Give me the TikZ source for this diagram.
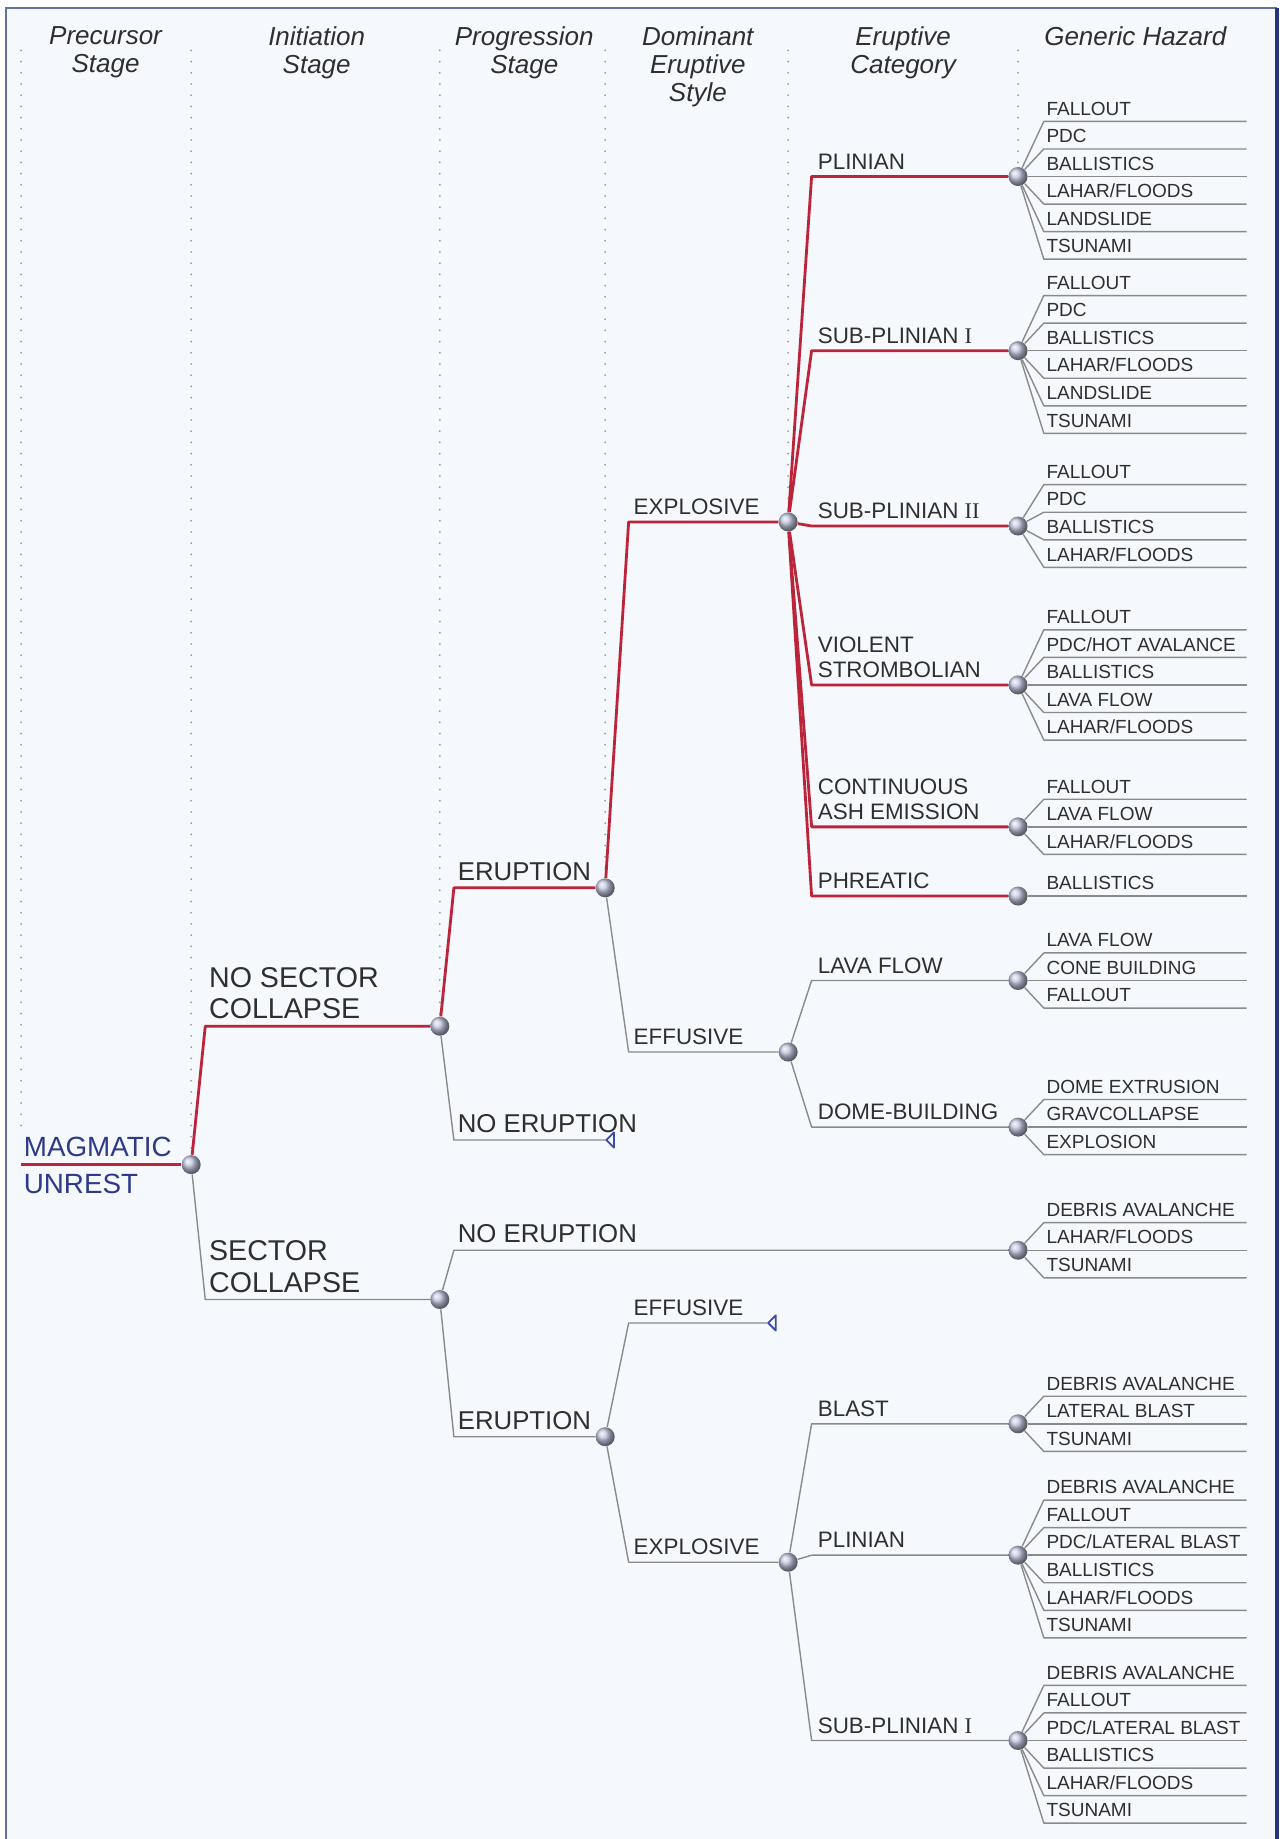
\documentclass[tikz,border=0pt]{standalone}
\usepackage{fontspec}
\setmainfont{Liberation Sans}
\newfontfamily\romanfont{Liberation Serif}
\usepackage{tikz}
\usetikzlibrary{calc}
\pgfdeclarelayer{bg}
\pgfsetlayers{bg,main}

\definecolor{paneblue}{HTML}{F5F8FC}
\definecolor{framegrey}{HTML}{6373A0}
\definecolor{framenavy}{HTML}{28357A}
\definecolor{pathred}{HTML}{BC2539}
\definecolor{branchgrey}{HTML}{8A8A8A}
\definecolor{ballgrey}{HTML}{C2C6DE}
\definecolor{unrestblue}{HTML}{2E3A88}
\definecolor{tipblue}{HTML}{3A4CA8}
\definecolor{inkgrey}{HTML}{2F2F2F}

\tikzset{
  redline/.style={draw=pathred, line width=1.4pt, line join=round},
  greyline/.style={draw=branchgrey, line width=0.7pt, line join=round},
  colline/.style={draw=gray!80, line width=1pt, line cap=round, dash pattern=on 0pt off 5.6pt},
  tipline/.style={draw=tipblue, fill=paneblue, line width=0.9pt, line join=round},
  elbow/.style={to path={-- ($(\tikztostart |- \tikztotarget)+(#1,0)$) -- (\tikztotarget)}},
  dot/.style={circle, inner sep=0pt, minimum size=9.5pt, shading=ball, ball color=ballgrey},
  lbl/.style={anchor=south west, inner sep=0pt, text depth=0pt, text=inkgrey, align=left},
  head/.style={anchor=north, inner sep=0pt, align=center, text=inkgrey, font=\fontsize{13}{14.1}\selectfont\itshape},
  rootlbl/.style={text=unrestblue, font=\fontsize{13.9}{15}\selectfont},
  initlbl/.style={font=\fontsize{14.3}{15.8}\selectfont},
  proglbl/.style={font=\fontsize{12.9}{14}\selectfont},
  stylbl/.style={font=\fontsize{11.2}{12.3}\selectfont},
  catlbl/.style={font=\fontsize{11.2}{12.3}\selectfont},
  haz/.style={lbl, font=\fontsize{9.5}{10}\selectfont}
}

% fan of hazards behind one category node: node, index of the middle line, list
\newcommand{\hazardfan}[3]{%
  \foreach \txt [count=\k from 0] in {#3} {
    \coordinate (#1-e\k) at ($(#1)+(195,{(\k-#2)*23.5})$);
    \begin{pgfonlayer}{bg}
      \draw[greyline] (#1) -- ($(#1)+(22,{(\k-#2)*23.5})$) -- (#1-e\k);
    \end{pgfonlayer}
    \node[haz] (#1-h\k) at ($(#1)+(24,{(\k-#2)*23.5-5})$) {\txt};
  }}

\begin{document}
\begin{tikzpicture}[x=0.5865pt, y=-0.5865pt]
    \useasboundingbox (0,0) rectangle (1093,1568);

    \begin{pgfonlayer}{bg}    % panel and frame
        \fill[white] (0,0) rectangle (1093,1568);
        \fill[paneblue] (5,7) rectangle (1089,1568);
        \draw[framegrey, line width=1.2pt] (5,1568) -- (5,7) -- (1089,7);
        \draw[framenavy, line width=1.8pt] (1089,7) -- (1089,1568);
    \end{pgfonlayer}

    % column heads
    \node[head] (h1) at (90,22) {Precursor\\Stage};
    \node[head] (h2) at (270,22) {Initiation\\Stage};
    \node[head] (h3) at (447,22) {Progression\\Stage};
    \node[head] (h4) at (595,22) {Dominant\\Eruptive\\Style};
    \node[head] (h5) at (770,22) {Eruptive\\Category};
    \node[head] (h6) at (968,22) {Generic Hazard};

    % branch points
    \coordinate (start) at (18,993);
    \node[dot] (n0) at (163,993) {};
    \node[dot] (nsc) at (375,875) {};
    \node[dot] (sc) at (375,1108) {};
    \node[dot] (erA) at (516,757) {};
    \coordinate (noerA) at (517,972);
    \node[dot] (erB) at (516,1225) {};
    \node[dot] (explA) at (672,445) {};
    \node[dot] (effA) at (672,897) {};
    \coordinate (effB) at (655,1128);
    \node[dot] (explB) at (672,1332) {};
    \node[dot] (pli) at (868,150.5) {};
    \node[dot] (spI) at (868,299) {};
    \node[dot] (spII) at (868,448.5) {};
    \node[dot] (vst) at (868,584) {};
    \node[dot] (cae) at (868,705) {};
    \node[dot] (phr) at (868,764) {};
    \node[dot] (lav) at (868,836) {};
    \node[dot] (dom) at (868,961) {};
    \node[dot] (noerB) at (868,1066) {};
    \node[dot] (bla) at (868,1214) {};
    \node[dot] (pliB) at (868,1326) {};
    \node[dot] (spIB) at (868,1484) {};

    \begin{pgfonlayer}{bg}    % stage columns and branches
        \draw[colline] (18,43) -- (18,960);
        \draw[colline] (163,43) -- (n0);
        \draw[colline] (375,43) -- (nsc);
        \draw[colline] (516,43) -- (erA);
        \draw[colline] (672,43) -- (explA);
        \draw[colline] (868,43) -- (pli);

        \draw[redline] (start) -- (n0);
        \draw[redline] (n0) to[elbow=12] (nsc);
        \draw[greyline] (n0) to[elbow=12] (sc);
        \draw[redline] (nsc) to[elbow=12] (erA);
        \draw[greyline] (nsc) to[elbow=12] (noerA);
        \draw[greyline] (sc) to[elbow=12] (noerB);
        \draw[greyline] (sc) to[elbow=12] (erB);
        \draw[redline] (erA) to[elbow=20] (explA);
        \draw[greyline] (erA) to[elbow=20] (effA);
        \draw[greyline] (erB) to[elbow=20] (effB);
        \draw[greyline] (erB) to[elbow=20] (explB);
        \foreach \c in {pli,spI,spII,vst,cae,phr}
            \draw[redline] (explA) to[elbow=20] (\c);
        \foreach \c in {lav,dom}
            \draw[greyline] (effA) to[elbow=20] (\c);
        \foreach \c in {bla,pliB,spIB}
            \draw[greyline] (explB) to[elbow=20] (\c);
    \end{pgfonlayer}

    % open ends
    \draw[tipline] (noerA) -- ++(6.5,-6.5) -- ++(0,13) -- cycle;
    \draw[tipline] (effB) -- ++(6.5,-6.5) -- ++(0,13) -- cycle;

    % labels
    \node[lbl, rootlbl] (mag) at (20,986) {MAGMATIC};
    \node[lbl, rootlbl, anchor=north west] (unr) at (20,1001) {UNREST};
    \node[lbl, initlbl] (l-nsc) at (178,869) {NO SECTOR\\COLLAPSE};
    \node[lbl, initlbl] (l-sc) at (178,1102) {SECTOR\\COLLAPSE};
    \node[lbl, proglbl] (l-erA) at (390,751) {ERUPTION};
    \node[lbl, proglbl] (l-noerA) at (390,966) {NO ERUPTION};
    \node[lbl, proglbl] (l-noerB) at (390,1060) {NO ERUPTION};
    \node[lbl, proglbl] (l-erB) at (390,1219) {ERUPTION};
    \node[lbl, stylbl] (l-explA) at (540,439) {EXPLOSIVE};
    \node[lbl, stylbl] (l-effA) at (540,891) {EFFUSIVE};
    \node[lbl, stylbl] (l-effB) at (540,1122) {EFFUSIVE};
    \node[lbl, stylbl] (l-explB) at (540,1326) {EXPLOSIVE};
    \node[lbl, catlbl] (l-pli) at (697,144.5) {PLINIAN};
    \node[lbl, catlbl] (l-spI) at (697,293) {SUB-PLINIAN {\romanfont I}};
    \node[lbl, catlbl] (l-spII) at (697,442.5) {SUB-PLINIAN {\romanfont II}};
    \node[lbl, catlbl] (l-vst) at (697,578) {VIOLENT\\STROMBOLIAN};
    \node[lbl, catlbl] (l-cae) at (697,699) {CONTINUOUS\\ASH EMISSION};
    \node[lbl, catlbl] (l-phr) at (697,758) {PHREATIC};
    \node[lbl, catlbl] (l-lav) at (697,830) {LAVA FLOW};
    \node[lbl, catlbl] (l-dom) at (697,955) {DOME-BUILDING};
    \node[lbl, catlbl] (l-bla) at (697,1208) {BLAST};
    \node[lbl, catlbl] (l-pliB) at (697,1320) {PLINIAN};
    \node[lbl, catlbl] (l-spIB) at (697,1478) {SUB-PLINIAN {\romanfont I}};

    % generic hazards
    \hazardfan{pli}{2}{FALLOUT,PDC,BALLISTICS,LAHAR/FLOODS,LANDSLIDE,TSUNAMI}
    \hazardfan{spI}{2}{FALLOUT,PDC,BALLISTICS,LAHAR/FLOODS,LANDSLIDE,TSUNAMI}
    \hazardfan{spII}{1.5}{FALLOUT,PDC,BALLISTICS,LAHAR/FLOODS}
    \hazardfan{vst}{2}{FALLOUT,PDC/HOT AVALANCE,BALLISTICS,LAVA FLOW,LAHAR/FLOODS}
    \hazardfan{cae}{1}{FALLOUT,LAVA FLOW,LAHAR/FLOODS}
    \hazardfan{phr}{0}{BALLISTICS}
    \hazardfan{lav}{1}{LAVA FLOW,CONE BUILDING,FALLOUT}
    \hazardfan{dom}{1}{DOME EXTRUSION,GRAVCOLLAPSE,EXPLOSION}
    \hazardfan{noerB}{1}{DEBRIS AVALANCHE,LAHAR/FLOODS,TSUNAMI}
    \hazardfan{bla}{1}{DEBRIS AVALANCHE,LATERAL BLAST,TSUNAMI}
    \hazardfan{pliB}{2}{DEBRIS AVALANCHE,FALLOUT,PDC/LATERAL BLAST,BALLISTICS,LAHAR/FLOODS,TSUNAMI}
    \hazardfan{spIB}{2}{DEBRIS AVALANCHE,FALLOUT,PDC/LATERAL BLAST,BALLISTICS,LAHAR/FLOODS,TSUNAMI}

\end{tikzpicture}
\end{document}
